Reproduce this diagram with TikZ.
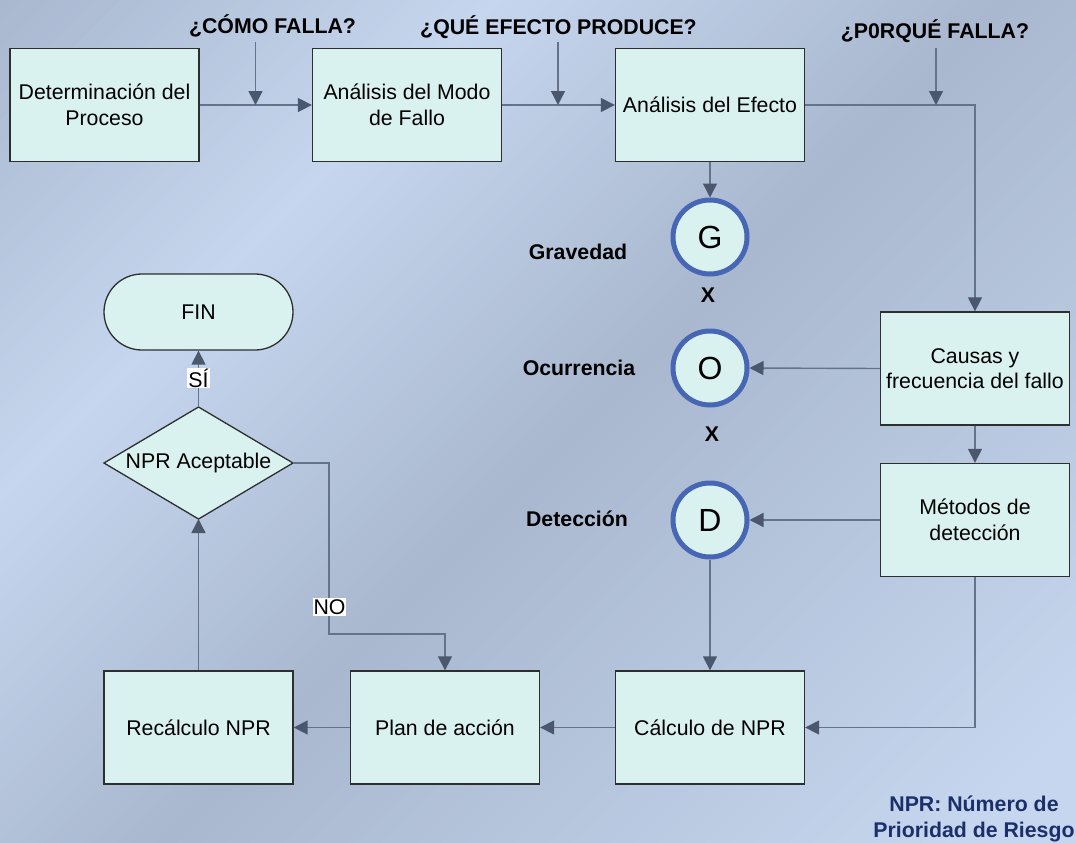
\documentclass[tikz,border=0pt]{standalone}
\usepackage{fontspec}
\setmainfont{Liberation Sans}
\usetikzlibrary{arrows.meta}
\definecolor{bgdark}{HTML}{A9B8CF}
\definecolor{bglight}{HTML}{C5D6EE}
\definecolor{boxfill}{HTML}{DAF2EF}
\definecolor{boxline}{HTML}{2E2E2E}
\definecolor{ring}{HTML}{4766B4}
\definecolor{linec}{HTML}{64738A}
\definecolor{headc}{HTML}{4B576D}
\definecolor{navy}{HTML}{1B2F6B}
\newcommand{\myfnt}{\fontsize{21.3}{25.5}\selectfont}
\newcommand{\mybold}{\fontsize{21.3}{25.5}\selectfont\bfseries}
\newcommand{\mybig}{\fontsize{32}{36}\selectfont}
\tikzset{
  box/.style={draw=boxline, fill=boxfill, line width=1.3pt, minimum width=189pt, minimum height=113pt, align=center, inner sep=2pt, font=\myfnt},
  circ/.style={circle, draw=ring, line width=5pt, fill=boxfill, minimum size=74pt, inner sep=0pt, font=\mybig},
  conn/.style={draw=linec, line width=1.4pt},
  arr/.style={conn, -{Triangle[length=14pt,width=14pt,color=headc]}},
  lbl/.style={font=\mybold, inner sep=0pt},
  tag/.style={fill=white, inner sep=1pt, font=\myfnt}
}
\begin{document}
\begin{tikzpicture}[x=1pt,y=-1pt]
\useasboundingbox (0,0) rectangle (1076,843);
% background
\begin{scope}
\clip (0,0) rectangle (1076,843);
\foreach \i in {0,...,160} {
  \pgfmathsetmacro{\t}{\i*12+6}
  \pgfmathtruncatemacro{\p}{\t<500 ? \t/5 : (\t<1000 ? (1000-\t)/5 : min(100,(\t-1000)/8))}
  \fill[bglight!\p!bgdark] ({\i*12},0) -- ({\i*12+13},0) -- ({\i*12+13-843},843) -- ({\i*12-843},843) -- cycle;
}
\end{scope}

% headers
\node[lbl] (h1) at (272.5,26) {¿CÓMO FALLA?};
\node[lbl] (h2) at (558.5,27) {¿QUÉ EFECTO PRODUCE?};
\node[lbl] (h3) at (935,31) {¿P0RQUÉ FALLA?};
\coordinate (q1) at (255.5,42);
\coordinate (q2) at (558,42);
\coordinate (q3) at (936,48);

% boxes
\node[box] (det) at (104.5,105) {Determinación del\\Proceso};
\node[box] (modo) at (407,105) {Análisis del Modo\\de Fallo};
\node[box] (efe) at (710,105) {Análisis del Efecto};
\node[box] (cau) at (975,368.5) {Causas y\\frecuencia del fallo};
\node[box] (met) at (975,520) {Métodos de\\detección};
\node[box] (calc) at (710,727.5) {Cálculo de NPR};
\node[box] (plan) at (445,727.5) {Plan de acción};
\node[box] (rec) at (198.5,727.5) {Recálculo NPR};

% circles
\node[circ] (G) at (710,237) {G};
\node[circ] (O) at (710,368) {O};
\node[circ] (D) at (710,520) {D};

% side labels
\node[lbl] (lg) at (578,252) {Gravedad};
\node[lbl] (lo) at (579,368) {Ocurrencia};
\node[lbl] (ld) at (577,519) {Detección};
\node[lbl] (x1) at (708,295) {X};
\node[lbl] (x2) at (712,434) {X};

% FIN and decision
\node[draw=boxline, fill=boxfill, line width=1.3pt, rounded corners=38pt, minimum width=189pt, minimum height=76pt, font=\myfnt] (fin) at (198.5,312) {FIN};
\coordinate (dT) at (198.5,407);
\coordinate (dB) at (198.5,519);
\coordinate (dL) at (104,463);
\coordinate (dR) at (293,463);
\draw[draw=boxline, fill=boxfill, line width=1.3pt] (dT) -- (dR) -- (dB) -- (dL) -- cycle;
\node[font=\myfnt] (dec) at (198.5,463) {NPR Aceptable};

% note
\node[font=\mybold, text=navy, align=center, inner sep=0pt] (note) at (974,819) {NPR: Número de\\Prioridad de Riesgo};

% connectors
\draw[arr] (det.east) -- (modo.west);
\draw[arr] (modo.east) -- (efe.west);
\draw[arr] (q1) -- (q1 |- det.east);
\draw[arr] (q2) -- (q2 |- modo.east);
\draw[arr] (efe.east) -| (cau.north);
\draw[arr] (q3) -- (q3 |- efe.east);
\draw[arr] (efe.south) -- (G.north);
\draw[arr] (cau.west) -- (O.east);
\draw[arr] (cau.south) -- (met.north);
\draw[arr] (met.west) -- (D.east);
\draw[arr] (D.south) -- (calc.north);
\draw[arr] (met.south) |- (calc.east);
\draw[arr] (calc.west) -- (plan.west -| plan.east);
\draw[arr] (plan.west) -- (rec.east);
\draw[arr] (rec.north) -- (dB);
\coordinate (nA) at (329,463);
\coordinate (nB) at (329,634);
\draw[arr] (dR) -- (nA) -- (nB) -| (plan.north);
\draw[arr] (dT) -- (fin.south);
\node[tag] (si) at (198.5,378) {SÍ};
\node[tag] (no) at (329.5,607) {NO};
\end{tikzpicture}
\end{document}
